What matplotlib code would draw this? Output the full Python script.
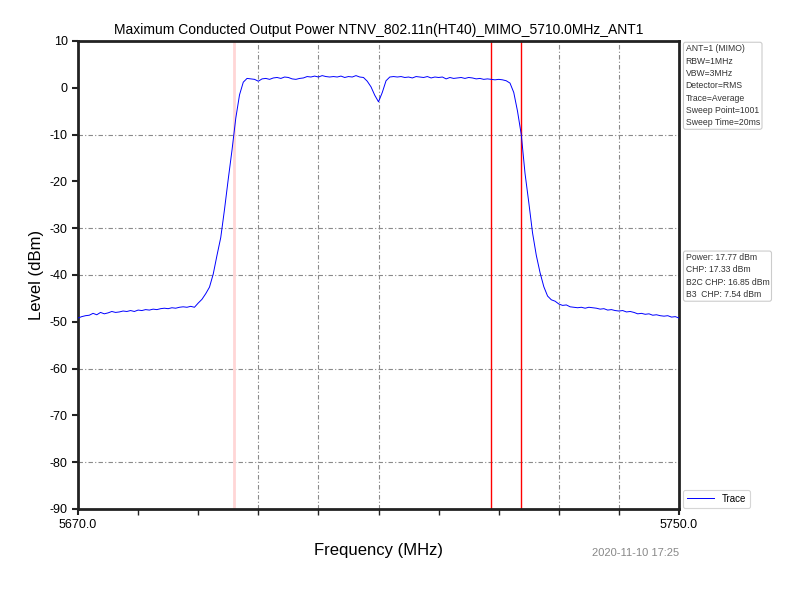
import matplotlib
matplotlib.use("Agg")
import matplotlib.pyplot as plt
from matplotlib.ticker import FixedLocator

plt.rcParams['font.family'] = ['Liberation Sans', 'DejaVu Sans']
plt.rcParams['axes.unicode_minus'] = False

title = "Maximum Conducted Output Power NTNV_802.11n(HT40)_MIMO_5710.0MHz_ANT1"

freq = [
    5670.0, 5670.5, 5671.0, 5671.5, 5672.0, 5672.5, 5673.0, 5673.5, 5674.0, 5674.5,
    5675.0, 5675.5, 5676.0, 5676.5, 5677.0, 5677.5, 5678.0, 5678.5, 5679.0, 5679.5,
    5680.0, 5680.5, 5681.0, 5681.5, 5682.0, 5682.5, 5683.0, 5683.5, 5684.0, 5684.5,
    5685.0, 5685.5, 5686.0, 5686.5, 5687.0, 5687.5, 5688.0, 5688.5, 5689.0, 5689.5,
    5690.0, 5690.5, 5691.0, 5691.5, 5692.0, 5692.5, 5693.0, 5693.5, 5694.0, 5694.5,
    5695.0, 5695.5, 5696.0, 5696.5, 5697.0, 5697.5, 5698.0, 5698.5, 5699.0, 5699.5,
    5700.0, 5700.5, 5701.0, 5701.5, 5702.0, 5702.5, 5703.0, 5703.5, 5704.0, 5704.5,
    5705.0, 5705.5, 5706.0, 5706.5, 5707.0, 5707.5, 5708.0, 5708.5, 5709.0, 5709.5,
    5710.0, 5710.5, 5711.0, 5711.5, 5712.0, 5712.5, 5713.0, 5713.5, 5714.0, 5714.5,
    5715.0, 5715.5, 5716.0, 5716.5, 5717.0, 5717.5, 5718.0, 5718.5, 5719.0, 5719.5,
    5720.0, 5720.5, 5721.0, 5721.5, 5722.0, 5722.5, 5723.0, 5723.5, 5724.0, 5724.5,
    5725.0, 5725.5, 5726.0, 5726.5, 5727.0, 5727.5, 5728.0, 5728.5, 5729.0, 5729.5,
    5730.0, 5730.5, 5731.0, 5731.5, 5732.0, 5732.5, 5733.0, 5733.5, 5734.0, 5734.5,
    5735.0, 5735.5, 5736.0, 5736.5, 5737.0, 5737.5, 5738.0, 5738.5, 5739.0, 5739.5,
    5740.0, 5740.5, 5741.0, 5741.5, 5742.0, 5742.5, 5743.0, 5743.5, 5744.0, 5744.5,
    5745.0, 5745.5, 5746.0, 5746.5, 5747.0, 5747.5, 5748.0, 5748.5, 5749.0, 5749.5,
    5750.0,
]

level = [
    -49.2, -48.9, -48.7, -48.6, -48.2, -48.5, -48.0, -48.3, -48.1, -47.8,
    -48.0, -47.9, -47.7, -47.8, -47.6, -47.8, -47.5, -47.6, -47.4, -47.5,
    -47.3, -47.4, -47.2, -47.1, -47.2, -47.0, -47.1, -46.9, -46.8, -46.9,
    -46.7, -46.9, -46.0, -45.2, -44.0, -42.6, -39.8, -35.8, -32.0, -26.0,
    -19.5, -13.3, -6.5, -1.5, 1.2, 2.0, 1.9, 1.8, 1.4, 1.9,
    2.0, 1.8, 2.1, 2.2, 2.0, 2.3, 2.2, 1.9, 1.8, 2.0,
    2.1, 2.4, 2.3, 2.5, 2.3, 2.6, 2.4, 2.3, 2.4, 2.3,
    2.5, 2.2, 2.4, 2.3, 2.6, 2.3, 2.2, 1.4, 0.2, -1.6,
    -3.0, -1.0, 1.5, 2.3, 2.4, 2.3, 2.4, 2.2, 2.3, 2.1,
    2.4, 2.3, 2.2, 2.4, 2.1, 2.3, 2.2, 2.3, 1.9, 2.2,
    2.0, 2.1, 2.2, 2.0, 2.2, 2.1, 1.9, 2.0, 1.8, 1.9,
    1.8, 1.7, 1.8, 1.7, 1.5, 1.0, -1.0, -5.0, -10.0, -18.3,
    -24.5, -31.0, -35.8, -39.5, -42.5, -44.5, -45.3, -45.6, -46.2, -46.5,
    -46.4, -46.8, -46.9, -47.0, -46.9, -47.1, -46.9, -47.0, -47.1, -47.3,
    -47.2, -47.5, -47.4, -47.6, -47.7, -47.6, -47.9, -47.8, -48.0, -48.3,
    -48.2, -48.4, -48.3, -48.6, -48.5, -48.7, -48.8, -48.7, -49.0, -48.9,
    -49.2,
]

pink_marker = [5690.8]
red_markers = [5725.0, 5729.0]
grid_x = [5694, 5702, 5710, 5734, 5742]
grid_y = [-10, -30, -40, -60, -80]
minor_x = [5678, 5686, 5694, 5702, 5710, 5718, 5726, 5734, 5742]

info_text = "ANT=1 (MIMO)\nRBW=1MHz\nVBW=3MHz\nDetector=RMS\nTrace=Average\nSweep Point=1001\nSweep Time=20ms"
power_text = "Power: 17.77 dBm\nCHP: 17.33 dBm\nB2C CHP: 16.85 dBm\nB3  CHP: 7.54 dBm"
timestamp = "2020-11-10 17:25"

fig = plt.figure(figsize=(8, 6), dpi=100)
ax = fig.add_axes([0.0975, 0.1517, 0.7513, 0.78])

gstyle = dict(color='#8a8a8a', lw=0.8, linestyle=(0, (4, 2, 1, 2)), zorder=1)
for gx in grid_x:
    ax.axvline(gx, **gstyle)
for gy in grid_y:
    ax.axhline(gy, **gstyle)

for px in pink_marker:
    ax.axvline(px, color='#ffd6d6', lw=2, zorder=2)
for rx in red_markers:
    ax.axvline(rx, color='#ff0000', lw=1, zorder=2)

ax.plot(freq, level, color='#0000ff', lw=0.7, label='Trace', zorder=3)

ax.set_xlim(5670, 5750)
ax.set_ylim(-90, 10)
ax.set_xticks([5670, 5750])
ax.set_xticklabels(['5670.0', '5750.0'])
ax.xaxis.set_minor_locator(FixedLocator(minor_x))
ax.set_yticks(range(-90, 11, 10))
ax.tick_params(axis='both', which='major', labelsize=9, length=4, width=1.5, direction='out', color='#222222')
ax.tick_params(axis='x', which='minor', length=4, width=1.0, direction='out', color='#222222')
ax.tick_params(axis='x', which='major', pad=3)
for sp in ax.spines.values():
    sp.set_linewidth(2)
    sp.set_color('#222222')

ax.set_title(title, fontsize=10, pad=5)
ax.set_xlabel("Frequency (MHz)", fontsize=12, labelpad=9)
ax.set_ylabel("Level (dBm)", fontsize=12)

bbox = dict(boxstyle='round,pad=0.25', facecolor='white', edgecolor='#cccccc', lw=0.8)
fig.text(0.857, 0.926, info_text, fontsize=6.2, va='top', ha='left', color='#333333',
         linespacing=1.47, bbox=bbox)
fig.text(0.857, 0.578, power_text, fontsize=6.2, va='top', ha='left', color='#333333',
         linespacing=1.47, bbox=bbox)
fig.text(0.849, 0.078, timestamp, fontsize=8, ha='right', va='center', color='#888888')

leg = ax.legend(loc='lower left', bbox_to_anchor=(1.007, 0.003), fontsize=7,
                frameon=True, handlelength=2.8, borderpad=0.4, borderaxespad=0.0)
leg.get_frame().set_edgecolor('#cccccc')
leg.get_frame().set_linewidth(0.8)

fig.savefig("out.png", dpi=100)
